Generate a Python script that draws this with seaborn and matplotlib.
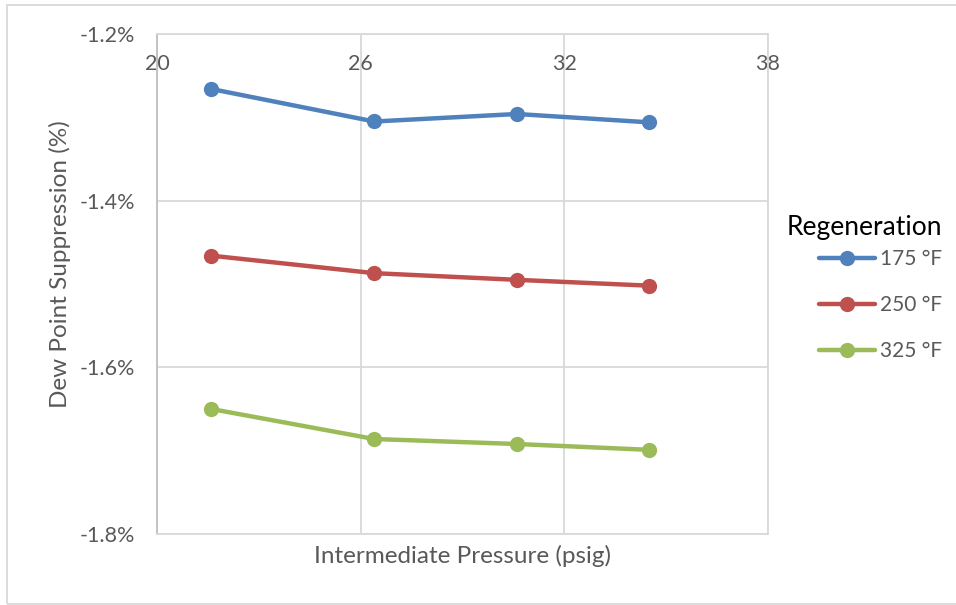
import matplotlib
matplotlib.use("Agg")
import matplotlib.pyplot as plt
from matplotlib.patches import Rectangle
from matplotlib.ticker import FuncFormatter, FixedLocator
import pandas as pd
import seaborn as sns

# Intermediate pressure (psig) at each test point
pressure = [21.6, 26.4, 30.6, 34.5]

# Dew point suppression (%) for each regeneration temperature
regen_175 = [-1.266, -1.305, -1.296, -1.306]
regen_250 = [-1.466, -1.487, -1.495, -1.502]
regen_325 = [-1.650, -1.686, -1.692, -1.699]

series_names = ["175 °F", "250 °F", "325 °F"]
series_colors = ["#4f81bd", "#c0504d", "#9bbb59"]

x_ticks = [20, 26, 32, 38]
y_ticks = [-1.8, -1.6, -1.4, -1.2]

df = pd.DataFrame({
    "Intermediate Pressure (psig)": pressure * 3,
    "Dew Point Suppression (%)": regen_175 + regen_250 + regen_325,
    "Regeneration": [n for n in series_names for _ in pressure],
})

sns.set_theme(style="white")
plt.rcParams["font.family"] = ["Lato", "DejaVu Sans"]

W, H = 956, 605
fig = plt.figure(figsize=(W / 100, H / 100), dpi=100)
ax = fig.add_axes([157 / W, 1 - 534 / H, (768 - 157) / W, (534 - 34) / H])

sns.lineplot(
    data=df, x="Intermediate Pressure (psig)", y="Dew Point Suppression (%)",
    hue="Regeneration", hue_order=series_names, palette=series_colors,
    marker="o", markersize=11, markeredgewidth=0, linewidth=3.2, ax=ax,
)

ax.set_xlim(20, 38)
ax.set_ylim(-1.8, -1.2)
ax.xaxis.set_major_locator(FixedLocator(x_ticks))
ax.yaxis.set_major_locator(FixedLocator(y_ticks))
ax.yaxis.set_major_formatter(FuncFormatter(lambda v, _: f"{v:.1f}%"))

grid_c = "#d9d9d9"
text_c = "#595959"
ax.grid(True, color=grid_c, linewidth=1.3)
ax.set_axisbelow(True)
for side in ["top", "right", "bottom"]:
    ax.spines[side].set_color(grid_c)
    ax.spines[side].set_linewidth(1.3)
ax.spines["left"].set_color("#bfbfbf")
ax.spines["left"].set_linewidth(1.3)

# x-axis labels sit just inside the top edge
ax.xaxis.set_ticks_position("top")
ax.xaxis.set_label_position("bottom")
ax.tick_params(axis="x", length=0, pad=-29, labelsize=15.5, labelcolor=text_c)
ax.tick_params(axis="y", length=0, pad=16, labelsize=15.5, labelcolor=text_c)

ax.set_xlabel("Intermediate Pressure (psig)", fontsize=17.5, color=text_c)
ax.xaxis.label.set_va("center")
ax.xaxis.set_label_coords(0.5, -(556 - 534) / 500)
ax.set_ylabel("Dew Point Suppression (%)", fontsize=17.5, color=text_c)
ax.yaxis.label.set_va("center")
ax.yaxis.set_label_coords((60 - 157) / 611, (534 - 264) / 500)

handles, labels = ax.get_legend_handles_labels()
leg = ax.legend(
    handles, labels,
    loc="upper right", bbox_to_anchor=(942 / W, 1 - 249 / H),
    bbox_transform=fig.transFigure, frameon=False,
    fontsize=15, labelspacing=1.25, handlelength=2.65,
    handletextpad=0.25, borderpad=0, borderaxespad=0,
)
for t in leg.get_texts():
    t.set_color(text_c)
fig.text(942 / W, 1 - 228 / H, "Regeneration", ha="right", va="center",
         fontsize=19, color="black")

# chart frame
fig.add_artist(Rectangle((7 / W, 1 / H), 1.0, (604 - 5) / H, transform=fig.transFigure,
                         fill=False, edgecolor=grid_c, linewidth=1.3))

fig.savefig("out.png", dpi=100, facecolor="white")
